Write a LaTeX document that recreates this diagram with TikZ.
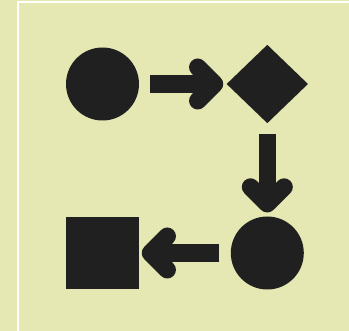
\documentclass[tikz,border=0pt]{standalone}
\usetikzlibrary{shapes.geometric,calc}
\definecolor{bgc}{HTML}{E5E8B2}
\definecolor{ink}{HTML}{202020}
\tikzset{
  blob/.style={fill=ink,draw=none,inner sep=0pt,outer sep=0pt},
  shaft/.style={draw=ink,line width=17.4pt,line cap=butt},
  chev/.style={draw=ink,line width=17.4pt,line cap=round,line join=round},
}
\begin{document}
\begin{tikzpicture}[x=1pt,y=-1pt]
\fill[bgc] (0,0) rectangle (349,331);
\useasboundingbox (0,0) rectangle (349,331);
\fill[white] (17,1) rectangle (19,331);
\fill[white] (17,1) rectangle (349,3);
\node[blob,circle,minimum size=73pt] (c1) at (102.5,84) {};
\node[blob,diamond,minimum width=81.3pt,minimum height=78.3pt] (d) at (267.3,84) {};
\node[blob,circle,minimum size=73pt] (c2) at (267.3,253) {};
\node[blob,rectangle,minimum width=73.3pt,minimum height=72.3pt] (s) at (102.7,253) {};
% arrow 1: circle -> diamond
\coordinate (v1) at ($(d.west)+(-12.1,0)$);
\draw[shaft] ($(c1.east)+(11,0)$) -- (v1);
\draw[chev] ($(v1)+(-16.8,-16.8)$) -- (v1) -- ($(v1)+(-16.8,16.8)$);
% arrow 2: diamond -> circle
\coordinate (v2) at ($(c2.north)+(0,-12.7)$);
\draw[shaft] ($(d.south)+(0,10.7)$) -- (v2);
\draw[chev] ($(v2)+(-16.8,-16.8)$) -- (v2) -- ($(v2)+(16.8,-16.8)$);
% arrow 3: circle -> square
\coordinate (v3) at ($(s.east)+(11.1,0)$);
\draw[shaft] ($(c2.west)+(-11.4,0)$) -- (v3);
\draw[chev] ($(v3)+(16.8,-16.8)$) -- (v3) -- ($(v3)+(16.8,16.8)$);
\end{tikzpicture}
\end{document}
